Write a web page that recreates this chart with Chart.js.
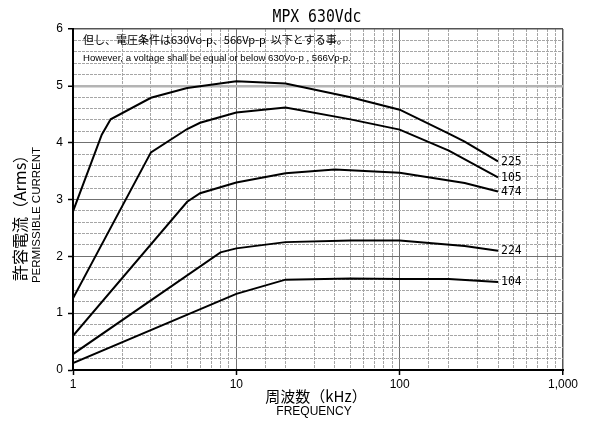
<!DOCTYPE html>
<html><head><meta charset="utf-8">
<script src="https://cdn.jsdelivr.net/npm/chart.js@4.4.0/dist/chart.umd.min.js"></script>
<style>html,body{margin:0;padding:0;background:#fff}#wrap{width:592px;height:421px;position:relative}</style>
</head><body><div id="wrap"><canvas id="c"></canvas></div>
<script>
// ---- data ----
const seriesLabels = ['225', '105', '474', '224', '104'];
const freq225 = [1, 1.5, 1.7, 3, 5, 10, 20, 50, 100, 200, 250, 400];
const cur225  = [2.79, 4.14, 4.41, 4.79, 4.96, 5.08, 5.04, 4.80, 4.58, 4.16, 4.02, 3.67];
const freq105 = [1, 3, 5, 6, 10, 20, 50, 100, 200, 400];
const cur105  = [1.26, 3.83, 4.24, 4.35, 4.53, 4.62, 4.41, 4.23, 3.86, 3.39];
const freq474 = [1, 5, 6, 10, 20, 40, 100, 250, 400];
const cur474  = [0.60, 2.96, 3.11, 3.30, 3.46, 3.53, 3.47, 3.29, 3.14];
const freq224 = [1, 8, 10, 20, 50, 100, 250, 400];
const cur224  = [0.28, 2.07, 2.14, 2.25, 2.28, 2.28, 2.18, 2.10];
const freq104 = [1, 10, 20, 50, 100, 200, 400];
const cur104  = [0.12, 1.34, 1.59, 1.61, 1.60, 1.60, 1.55];
const xTickLabels = ['1', '10', '100', '1,000'];
const yTickLabels = ['0', '1', '2', '3', '4', '5', '6'];
const titleText = 'MPX 630Vdc';
const noteJa = '但し、電圧条件は630Vo-p、566Vp-p  以下とする事。';
const noteEn = 'However, a voltage shall be equal or below 630Vo-p , 566Vp-p.';
const yTitleJa = '許容電流（Arms）';
const yTitleEn = 'PERMISSIBLE CURRENT';
const xTitleJa = '周波数（kHz）';
const xTitleEn = 'FREQUENCY';

const freqs = [freq225, freq105, freq474, freq224, freq104];
const curs = [cur225, cur105, cur474, cur224, cur104];

function isInt(v){ return Math.abs(v - Math.round(v)) < 1e-6; }
function isDecade(v){ const l = Math.log10(v); return Math.abs(l - Math.round(l)) < 1e-6; }

const datasets = seriesLabels.map((lab, i) => ({
  label: lab,
  data: freqs[i].map((f, j) => ({x: f, y: curs[i][j]})),
  borderColor: '#000', borderWidth: 2, pointRadius: 0, tension: 0, fill: false
}));

const textPlugin = {
  id: 'texts',
  afterDatasetsDraw(chart){
    const ctx = chart.ctx;
    ctx.save();
    ctx.fillStyle = '#000';
    chart.data.datasets.forEach((ds, i) => {
      const meta = chart.getDatasetMeta(i);
      const pt = meta.data[meta.data.length - 1];
      ctx.save();
      ctx.font = '13px "DejaVu Sans Mono"';
      ctx.textBaseline = 'middle';
      ctx.textAlign = 'left';
      ctx.translate(pt.x + 3, pt.y);
      ctx.scale(0.88, 1);
      ctx.fillText(ds.label, 0, 0);
      ctx.restore();
    });
    const area = chart.chartArea;
    ctx.textAlign = 'left';
    ctx.textBaseline = 'middle';
    ctx.font = '11px "Noto Sans CJK JP"';
    ctx.fillText(noteJa, area.left + 10, 40);
    ctx.font = '9.6px "Liberation Sans"';
    ctx.fillText(noteEn, area.left + 10, 58);
    ctx.restore();
  },
  afterDraw(chart){
    const ctx = chart.ctx;
    ctx.save();
    ctx.fillStyle = '#000';
    ctx.save();
    ctx.font = '17px "DejaVu Sans Mono"';
    ctx.textAlign = 'center';
    ctx.textBaseline = 'middle';
    ctx.translate(317, 18);
    ctx.scale(0.87, 1);
    ctx.fillText(titleText, 0, 0);
    ctx.restore();
    ctx.textAlign = 'center';
    ctx.textBaseline = 'middle';
    ctx.font = '15px "Noto Sans CJK JP"';
    ctx.fillText(xTitleJa, 316, 396);
    ctx.font = '12px "Liberation Sans"';
    ctx.fillText(xTitleEn, 314, 412);
    ctx.save();
    ctx.translate(20, 214);
    ctx.rotate(-Math.PI / 2);
    ctx.font = '16px "Noto Sans CJK JP"';
    ctx.fillText(yTitleJa, 0, 0);
    ctx.restore();
    ctx.save();
    ctx.translate(36.5, 215);
    ctx.rotate(-Math.PI / 2);
    ctx.font = '11.5px "Liberation Sans"';
    ctx.fillText(yTitleEn, 0, 0);
    ctx.restore();
    ctx.restore();
  }
};

new Chart(document.getElementById('c'), {
  type: 'line',
  data: { datasets },
  plugins: [textPlugin],
  options: {
    responsive: true, maintainAspectRatio: false, animation: false,
    layout: { padding: { top: 29, right: 29, left: 0, bottom: 0 } },
    plugins: { legend: { display: false }, title: { display: false }, tooltip: { enabled: false } },
    scales: {
      x: {
        type: 'logarithmic', min: 1, max: 1000,
        afterFit(s){ s.height = 51; },
        border: { display: true, color: '#000', width: 2, dash: c => (c.tick && !isDecade(c.tick.value)) ? [3, 1] : [] },
        grid: {
          color: c => { const v = c.tick.value; if (Math.abs(v - 1000) < 1e-6) return '#555'; return isDecade(v) ? '#707070' : '#a6a6a6'; },
          lineWidth: c => { const v = c.tick.value; if (Math.abs(v - 1000) < 1e-6) return 1.5; return 1; },
          tickColor: c => isDecade(c.tick.value) ? '#000' : 'rgba(0,0,0,0)',
          tickWidth: 1.5, tickLength: 5, drawTicks: true
        },
        ticks: {
          autoSkip: false, maxRotation: 0, padding: 2, color: '#000',
          font: { family: 'Liberation Sans', size: 12 },
          callback: v => isDecade(v) ? xTickLabels[Math.round(Math.log10(v))] : ''
        }
      },
      y: {
        type: 'linear', min: 0, max: 6,
        afterFit(s){ s.width = 73; },
        border: { display: true, color: '#000', width: 2, dash: c => (c.tick && !isInt(c.tick.value)) ? [3, 1] : [] },
        grid: {
          color: c => { const v = c.tick.value; if (Math.abs(v - 6) < 1e-6) return '#555'; if (Math.abs(v - 5) < 1e-6) return '#b4b4b4'; return isInt(v) ? '#707070' : '#a6a6a6'; },
          lineWidth: c => { const v = c.tick.value; if (Math.abs(v - 5) < 1e-6) return 2.5; if (Math.abs(v - 6) < 1e-6) return 1.5; return 1; },
          tickColor: c => isInt(c.tick.value) ? '#000' : 'rgba(0,0,0,0)',
          tickWidth: 1.5, tickLength: 5, drawTicks: true
        },
        ticks: {
          stepSize: 0.2, autoSkip: false, padding: 5, color: '#000',
          font: { family: 'Liberation Sans', size: 12 },
          callback: v => isInt(v) ? yTickLabels[Math.round(v)] : ''
        }
      }
    }
  }
});
</script>
</body></html>
